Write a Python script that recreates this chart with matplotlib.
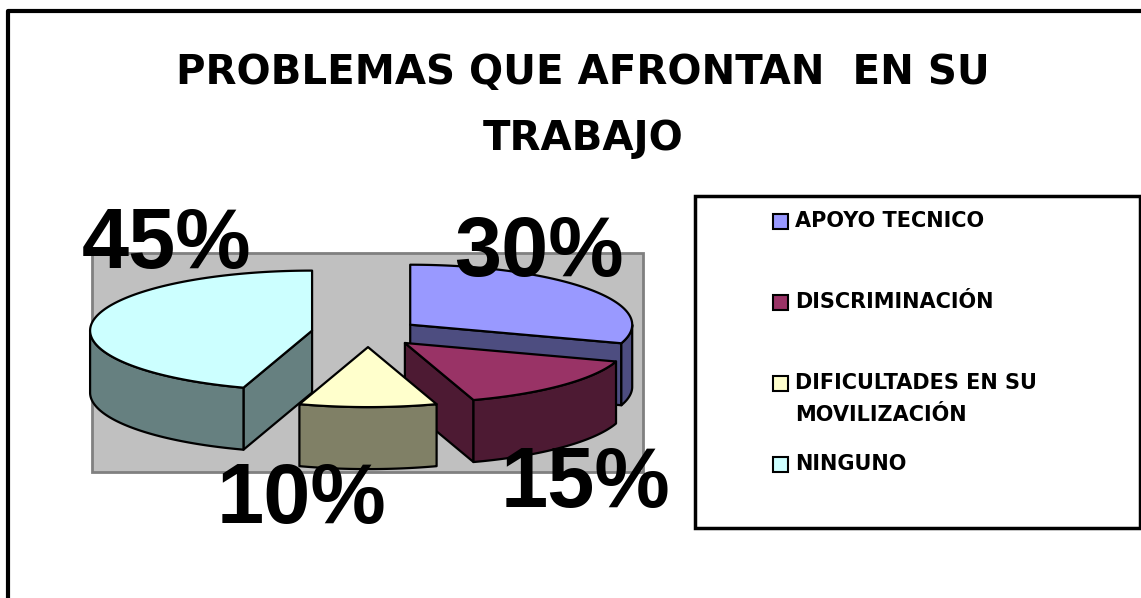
import numpy as np
import matplotlib
matplotlib.use("Agg")
import matplotlib.pyplot as plt
from matplotlib.patches import Polygon, Rectangle
from matplotlib.colors import to_rgb

# ---- data ----
title = "PROBLEMAS QUE AFRONTAN  EN SU\nTRABAJO"
categories = ["APOYO TECNICO", "DISCRIMINACIÓN", "DIFICULTADES EN SU\nMOVILIZACIÓN", "NINGUNO"]
values = [30, 15, 10, 45]
pct_labels = ["30%", "15%", "10%", "45%"]

# ---- style / layout ----
colors = ["#9999FF", "#993366", "#FFFFCC", "#CCFFFF"]
explode = [0.235, 0.235, 0.235, 0.255]
label_pos = [(539, 276), (586, 507), (302, 523), (167, 268)]  # baseline positions
W, H = 1141, 598
CX, CY, RX, RY, DEPTH = 368, 333, 222, 60, 62
EDGE_LW = 1.6

fig = plt.figure(figsize=(W / 100, H / 100), dpi=100)
ax = fig.add_axes([0, 0, 1, 1])
ax.set_xlim(0, W)
ax.set_ylim(H, 0)
ax.axis("off")

# outer frame
ax.plot([8, 8, W + 5], [H + 5, 11, 11], color="black", lw=3, solid_capstyle="projecting", zorder=1)

# plot area
ax.add_patch(Rectangle((92, 253), 551, 219, facecolor="#C0C0C0", edgecolor="#808080", lw=2, zorder=1))

# title
ax.text(583, 106, title, ha="center", va="center", fontsize=29, fontweight="bold",
        family="DejaVu Sans", linespacing=1.85, zorder=5)

total = float(sum(values))
fracs = [v / total for v in values]
cum = np.concatenate([[0], np.cumsum(fracs)])


def pt(theta_deg, offx, offy, dz=0.0):
    t = np.radians(theta_deg)
    return (CX + offx + RX * np.cos(t), CY + offy - RY * np.sin(t) + dz)


def arc(lo, hi, offx, offy, dz=0.0, n=120):
    ts = np.linspace(lo, hi, n)
    return [pt(t, offx, offy, dz) for t in ts]


slices = []
for i, f in enumerate(fracs):
    a_start = 90 - 360 * cum[i]
    a_end = 90 - 360 * cum[i + 1]
    lo, hi = a_end, a_start
    mid = 0.5 * (lo + hi)
    e = explode[i]
    offx = e * RX * np.cos(np.radians(mid))
    offy = -e * RY * np.sin(np.radians(mid))
    slices.append((i, lo, hi, mid, offx, offy))

# painter's order: back slices first
slices.sort(key=lambda s: -np.sin(np.radians(s[3])))

for (i, lo, hi, mid, offx, offy) in slices:
    top = np.array(to_rgb(colors[i]))
    side = tuple(top * 0.5)
    z = 2 + 0.01 * i
    apex_t = (CX + offx, CY + offy)
    apex_b = (CX + offx, CY + offy + DEPTH)
    # radial walls
    for phi, nrm in ((lo, lo - 90), (hi, hi + 90)):
        if np.sin(np.radians(nrm)) < -1e-6:
            poly = [apex_t, pt(phi, offx, offy), pt(phi, offx, offy, DEPTH), apex_b]
            ax.add_patch(Polygon(poly, closed=True, facecolor=side, edgecolor="black",
                                 lw=EDGE_LW, joinstyle="round", zorder=z))
    # outer front wall
    for k in (-1, 0, 1):
        a = max(lo, 180 + 360 * k)
        b = min(hi, 360 + 360 * k)
        if b > a + 1e-6:
            poly = arc(a, b, offx, offy) + arc(b, a, offx, offy, DEPTH)
            ax.add_patch(Polygon(poly, closed=True, facecolor=side, edgecolor="black",
                                 lw=EDGE_LW, joinstyle="round", zorder=z))
    # top face
    poly = [apex_t] + arc(lo, hi, offx, offy)
    ax.add_patch(Polygon(poly, closed=True, facecolor=colors[i], edgecolor="black",
                         lw=EDGE_LW, joinstyle="round", zorder=z + 0.001))

# data labels
for i, lab in enumerate(pct_labels):
    x, y = label_pos[i]
    ax.text(x, y, lab, ha="center", va="baseline", fontsize=61, fontweight="bold",
            family="Liberation Sans", zorder=10)

# legend (manual, Excel style)
ax.add_patch(Rectangle((695, 196), 445, 332, facecolor="white", edgecolor="black", lw=2.5, zorder=6))
entry_y0, entry_dy = 222, 81
for i, cat in enumerate(categories):
    y = entry_y0 + entry_dy * i
    ax.add_patch(Rectangle((773, y - 8), 15, 15, facecolor=colors[i], edgecolor="black", lw=1.5, zorder=7))
    ax.text(795, y - 11, cat, ha="left", va="top", fontsize=15, fontweight="bold",
            family="DejaVu Sans", linespacing=1.75, zorder=7)

fig.savefig("out.png", dpi=100)
